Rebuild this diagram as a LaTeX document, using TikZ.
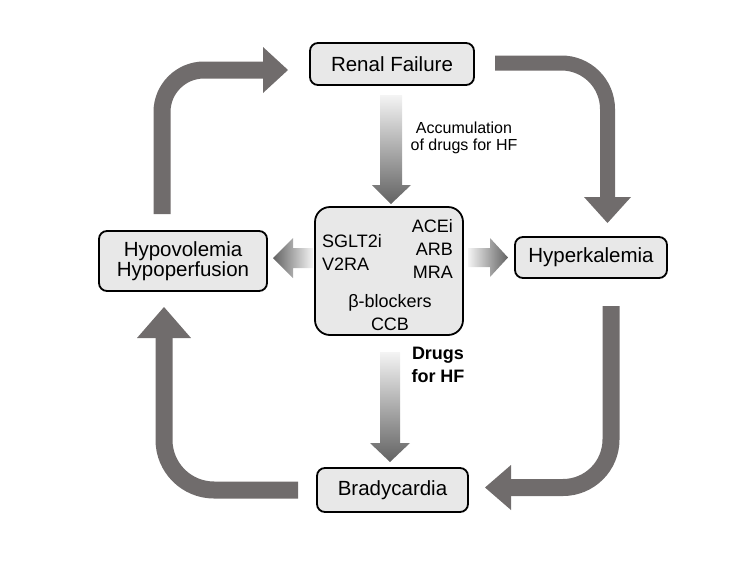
\documentclass[tikz,border=0pt]{standalone}
\usepackage{fontspec}
\setmainfont{Liberation Sans}
\usetikzlibrary{calc}
\definecolor{arrowgray}{RGB}{112,108,108}
\definecolor{boxfill}{RGB}{232,232,232}
\definecolor{shadelight}{RGB}{244,244,244}
\definecolor{shadedark}{RGB}{98,98,98}
\tikzset{
  mainbox/.style={draw=black, line width=1.8pt, fill=boxfill, rounded corners=8pt,
    inner sep=0pt, align=center, font=\fontsize{20.5}{20}\selectfont},
  drugbox/.style={mainbox, rounded corners=15pt},
  drugtxt/.style={inner sep=0pt, font=\fontsize{18}{20}\selectfont},
  cyclearrow/.style={draw=arrowgray, line width=17pt, rounded corners=42pt},
  cyclehead/.style={fill=arrowgray},
  vshade/.style={top color=shadelight, bottom color=shadedark},
}
\begin{document}
\begin{tikzpicture}[x=1pt,y=-1pt]
\useasboundingbox (0,0) rectangle (750,563);

% boxes
\node[mainbox, minimum width=164pt, minimum height=42pt] (renal) at (392,64) {Renal Failure};
\node[mainbox, minimum width=168pt, minimum height=60pt] (hypo) at (183,261) {Hypovolemia\\Hypoperfusion};
\node[mainbox, minimum width=152pt, minimum height=41pt] (hyperk) at (591,257.5) {Hyperkalemia};
\node[mainbox, minimum width=151pt, minimum height=44pt] (brady) at (392.5,490) {Bradycardia};
\node[drugbox, minimum width=148pt, minimum height=128pt] (drugs) at (389,271) {};

% texts in the drug box
\node[drugtxt, anchor=base west] (sglt) at (322,247.5) {SGLT2i};
\node[drugtxt, anchor=base west] (v2ra) at (322,270) {V2RA};
\node[drugtxt, anchor=base east] (acei) at (453,232) {ACEi};
\node[drugtxt, anchor=base east] (arb) at (453,255) {ARB};
\node[drugtxt, anchor=base east] (mra) at (453,278) {MRA};
\node[drugtxt, anchor=base] (beta) at (390,307.5) {β-blockers};
\node[drugtxt, anchor=base] (ccb) at (390,330) {CCB};

% labels
\node[inner sep=0pt, anchor=north, align=center, font=\fontsize{16}{17}\selectfont] (accum) at (464,121.5)
  {Accumulation\\of drugs for HF};
\node[inner sep=0pt, anchor=north, align=center, font=\fontsize{18}{23}\selectfont\bfseries] (hflabel) at (438,346.5)
  {Drugs\\for HF};

% cycle arrows
\coordinate (a1s) at (162,214);  \coordinate (a1e) at (264,70);
\coordinate (a2s) at (495,63);   \coordinate (a2e) at (607.5,198);
\coordinate (a3s) at (611,306);  \coordinate (a3e) at (510,487.5);
\coordinate (a4s) at (298,490);  \coordinate (a4e) at (164,337);

\draw[cyclearrow] (a1s) |- (a1e);
\fill[cyclehead] (263,47) -- (288,70) -- (263,93) -- cycle;

\draw[cyclearrow, line width=15pt, rounded corners=46pt] (a2s) -| (a2e);
\fill[cyclehead] (584,197) -- (607.5,223) -- (631,197) -- cycle;

\draw[cyclearrow, rounded corners=48pt] (a3s) |- (a3e);
\fill[cyclehead] (511,465) -- (485,487.5) -- (511,510) -- cycle;

\draw[cyclearrow, rounded corners=50pt] (a4s) -| (a4e);
\fill[cyclehead] (137,338) -- (164,307) -- (191,338) -- cycle;

% gradient arrows
\shade[vshade] (380,95) -- (402,95) -- (402,185) -- (411,185) -- (391,204) -- (372,185) -- (380,185) -- cycle;
\shade[left color=shadedark, right color=shadelight] (313,248) -- (293,248) -- (293,238) -- (273,258) -- (293,278) -- (293,268) -- (313,268) -- cycle;
\shade[left color=shadelight, right color=shadedark] (468,248) -- (490,248) -- (490,238) -- (508,257.5) -- (490,277) -- (490,267) -- (468,267) -- cycle;
\shade[vshade] (380,352) -- (400,352) -- (400,443) -- (410,443) -- (390,462) -- (370,443) -- (380,443) -- cycle;
\end{tikzpicture}
\end{document}
